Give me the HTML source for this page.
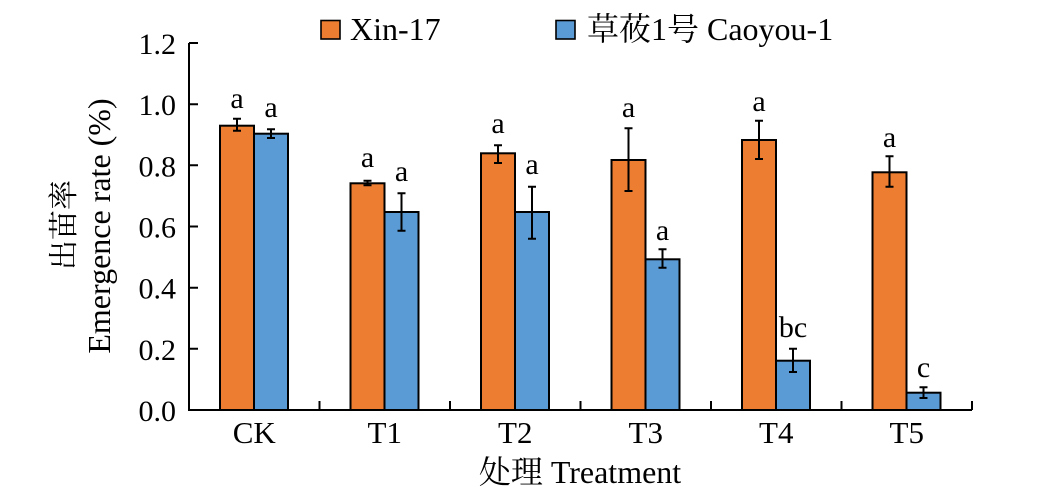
<!DOCTYPE html>
<html><head><meta charset="utf-8"><style>
html,body{margin:0;padding:0;background:#fff;}
svg{display:block;}
text{font-family:"Liberation Serif","Noto Serif CJK SC",serif;fill:#000;}
</style></head><body>
<svg width="1038" height="501" viewBox="0 0 1038 501" xmlns="http://www.w3.org/2000/svg">
<!-- legend -->
<rect x="321" y="20.5" width="19" height="18.5" fill="#ED7D31" stroke="#000" stroke-width="1.6"/>
<text x="350" y="40" font-size="32">Xin-17</text>
<rect x="556" y="20.5" width="19" height="18.5" fill="#5B9BD5" stroke="#000" stroke-width="1.6"/>
<text x="587" y="40" font-size="32">草莜1号 Caoyou-1</text>

<!-- bars -->
<g stroke="#000" stroke-width="2">
<rect x="220" y="125.7" width="34" height="284.3" fill="#ED7D31"/>
<rect x="254" y="133.7" width="34" height="276.3" fill="#5B9BD5"/>
<rect x="350.5" y="183.3" width="34" height="226.7" fill="#ED7D31"/>
<rect x="384.5" y="212" width="34" height="198" fill="#5B9BD5"/>
<rect x="481" y="153.3" width="34" height="256.7" fill="#ED7D31"/>
<rect x="515" y="212" width="34" height="198" fill="#5B9BD5"/>
<rect x="611.5" y="160" width="34" height="250" fill="#ED7D31"/>
<rect x="645.5" y="259.3" width="34" height="150.7" fill="#5B9BD5"/>
<rect x="742" y="140" width="34" height="270" fill="#ED7D31"/>
<rect x="776" y="360.7" width="34" height="49.3" fill="#5B9BD5"/>
<rect x="872.5" y="172.3" width="34" height="237.7" fill="#ED7D31"/>
<rect x="906.5" y="392.7" width="34" height="17.3" fill="#5B9BD5"/>
</g>

<!-- error bars -->
<g stroke="#000" stroke-width="2" fill="none">
<path d="M237 118.7V130.7M233 118.7H241M233 130.7H241"/>
<path d="M271 129.3V138M267 129.3H275M267 138H275"/>
<path d="M367.5 180.7V185.3M363.5 180.7H371.5M363.5 185.3H371.5"/>
<path d="M401.5 193.3V230.7M397.5 193.3H405.5M397.5 230.7H405.5"/>
<path d="M498 145.3V163M494 145.3H502M494 163H502"/>
<path d="M532 186.7V238.7M528 186.7H536M528 238.7H536"/>
<path d="M628.5 128.3V191M624.5 128.3H632.5M624.5 191H632.5"/>
<path d="M662.5 249.3V267.7M658.5 249.3H666.5M658.5 267.7H666.5"/>
<path d="M759 120.7V159M755 120.7H763M755 159H763"/>
<path d="M793 348.7V372M789 348.7H797M789 372H797"/>
<path d="M889.5 156.3V186.7M885.5 156.3H893.5M885.5 186.7H893.5"/>
<path d="M923.5 387.3V398M919.5 387.3H927.5M919.5 398H927.5"/>
</g>

<!-- significance letters -->
<g font-size="30" text-anchor="middle">
<text x="237" y="108">a</text>
<text x="271" y="117">a</text>
<text x="367.5" y="167">a</text>
<text x="401.5" y="181">a</text>
<text x="498" y="133">a</text>
<text x="532" y="174">a</text>
<text x="628.5" y="117">a</text>
<text x="662.5" y="240">a</text>
<text x="759" y="111">a</text>
<text x="793" y="337">bc</text>
<text x="889.5" y="147">a</text>
<text x="923.5" y="377">c</text>
</g>

<!-- axes -->
<g stroke="#000" stroke-width="2" fill="none">
<path d="M189 43V410H972"/>
<path d="M189 43H198M189 104.2H198M189 165.3H198M189 226.5H198M189 287.7H198M189 348.8H198"/>
<path d="M319.5 410V401M450 410V401M580.5 410V401M711 410V401M841.5 410V401M972 410V401"/>
</g>

<!-- y tick labels -->
<g font-size="30" text-anchor="end">
<text x="176" y="54">1.2</text>
<text x="176" y="115.2">1.0</text>
<text x="176" y="176.3">0.8</text>
<text x="176" y="237.5">0.6</text>
<text x="176" y="298.7">0.4</text>
<text x="176" y="359.8">0.2</text>
<text x="176" y="421">0.0</text>
</g>

<!-- x tick labels -->
<g font-size="31" text-anchor="middle">
<text x="254.25" y="443">CK</text>
<text x="384.75" y="443">T1</text>
<text x="515.25" y="443">T2</text>
<text x="645.75" y="443">T3</text>
<text x="776.25" y="443">T4</text>
<text x="906.75" y="443">T5</text>
</g>

<!-- axis titles -->
<text x="580" y="483" font-size="32" text-anchor="middle">处理 Treatment</text>
<text transform="translate(74,225) rotate(-90)" font-size="30" text-anchor="middle">出苗率</text>
<text transform="translate(110,226) rotate(-90)" font-size="32" text-anchor="middle">Emergence rate (%)</text>
</svg>
</body></html>
